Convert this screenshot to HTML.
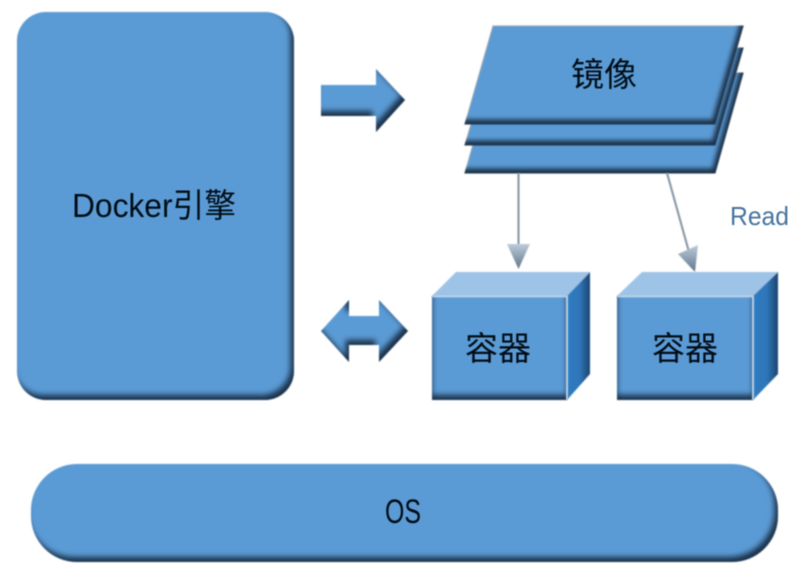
<!DOCTYPE html>
<html><head><meta charset="utf-8">
<style>
html,body{margin:0;padding:0;background:#fff;width:805px;height:570px;overflow:hidden}
svg{display:block}
text{font-family:"Liberation Sans","Noto Sans CJK SC",sans-serif;fill:#050d18}
</style></head>
<body>
<svg width="805" height="570" viewBox="0 0 805 570" xmlns="http://www.w3.org/2000/svg">
<defs>
<filter id="bevel" x="-5%" y="-5%" width="110%" height="110%" color-interpolation-filters="sRGB">
  <feGaussianBlur in="SourceAlpha" stdDeviation="2.8" result="b"/>
  <feOffset in="b" dx="-3.5" dy="-5" result="o"/>
  <feComposite in="SourceAlpha" in2="o" operator="out" result="edge"/>
  <feFlood flood-color="#1a3048" flood-opacity="1"/>
  <feComposite in2="edge" operator="in" result="dark"/>
  <feMerge result="m"><feMergeNode in="SourceGraphic"/><feMergeNode in="dark"/></feMerge>
  <feGaussianBlur in="m" stdDeviation="0.7"/>
</filter>
<filter id="bevelP" x="-5%" y="-10%" width="110%" height="120%" color-interpolation-filters="sRGB">
  <feGaussianBlur in="SourceAlpha" stdDeviation="2.5" result="b"/>
  <feOffset in="b" dx="-3" dy="-5" result="o"/>
  <feComposite in="SourceAlpha" in2="o" operator="out" result="edge"/>
  <feFlood flood-color="#1a3048" flood-opacity="1"/>
  <feComposite in2="edge" operator="in" result="dark"/>
  <feMerge result="m"><feMergeNode in="SourceGraphic"/><feMergeNode in="dark"/></feMerge>
  <feGaussianBlur in="m" stdDeviation="0.7"/>
</filter>
<filter id="bevelB" x="-5%" y="-10%" width="110%" height="120%" color-interpolation-filters="sRGB">
  <feGaussianBlur in="SourceAlpha" stdDeviation="2.8" result="b"/>
  <feOffset in="b" dx="0" dy="-5" result="o"/>
  <feComposite in="SourceAlpha" in2="o" operator="out" result="edge"/>
  <feFlood flood-color="#1a3048" flood-opacity="1"/>
  <feComposite in2="edge" operator="in" result="dark"/>
  <feMerge result="m"><feMergeNode in="SourceGraphic"/><feMergeNode in="dark"/></feMerge>
  <feGaussianBlur in="m" stdDeviation="0.7"/>
</filter>
<filter id="soft" x="-10%" y="-10%" width="120%" height="120%"><feGaussianBlur stdDeviation="0.7"/></filter>
<filter id="txt" x="-5%" y="-20%" width="110%" height="140%"><feGaussianBlur stdDeviation="0.5"/></filter>
<linearGradient id="side" x1="0" y1="0" x2="1" y2="0">
  <stop offset="0" stop-color="#2f7cc2"/><stop offset=".55" stop-color="#2f76b8"/><stop offset="1" stop-color="#1a4470"/>
</linearGradient>
<linearGradient id="head" x1="0" y1="0" x2="0" y2="1">
  <stop offset="0" stop-color="#bccbdb"/><stop offset="1" stop-color="#5f7588"/>
</linearGradient>
</defs>

<!-- Engine -->
<rect x="17" y="12" width="277" height="388" rx="29" fill="#5b9bd5" filter="url(#bevel)"/>
<text x="72" y="217" font-size="33" textLength="164" lengthAdjust="spacingAndGlyphs" filter="url(#txt)">Docker引擎</text>

<!-- Arrow right -->
<path d="M321 85H376V69L405 100L376 132V116H321Z" fill="#5b9bd5" filter="url(#bevel)"/>

<!-- Double arrow -->
<path d="M321 331L349 300V316H379V300L408 331L379 362V345H349V362Z" fill="#5b9bd5" filter="url(#bevel)"/>

<!-- Image stack -->
<g>
  <path d="M465 173L493 73H743L715 173Z" fill="#5b9bd5" stroke="#9aa3ab" stroke-width="1" filter="url(#bevelP)"/>
  <path d="M465 145L493 48H743L715 145Z" fill="#5b9bd5" stroke="#9aa3ab" stroke-width="1" filter="url(#bevelP)"/>
  <path d="M465 124L493 26H743L715 124Z" fill="#5b9bd5" stroke="#9aa3ab" stroke-width="1" filter="url(#bevelP)"/>
</g>
<text x="604" y="86" font-size="33" text-anchor="middle" filter="url(#txt)">镜像</text>

<!-- Connectors -->
<g filter="url(#soft)">
  <line x1="518.5" y1="173" x2="518.5" y2="246" stroke="#7f909f" stroke-width="2"/>
  <path d="M507 244H530L518.5 269Z" fill="url(#head)"/>
  <line x1="667" y1="173" x2="689" y2="252" stroke="#7f909f" stroke-width="2"/>
  <path d="M678 254L698 245L695 272Z" fill="url(#head)"/>
</g>

<!-- Container 1 -->
<g filter="url(#soft)">
  <path d="M432 296L456 272H590L567 296Z" fill="#9dc3e6"/>
  <path d="M567 296L590 272V374L567 400Z" fill="url(#side)"/>
</g>
<rect x="432" y="296" width="135" height="104" fill="#5b9bd5" filter="url(#bevelB)"/>
<path d="M432 296.5H567V400" fill="none" stroke="#c5dcf1" stroke-width="1.6" filter="url(#soft)"/>
<text x="498" y="360" font-size="33" text-anchor="middle" filter="url(#txt)">容器</text>

<!-- Container 2 -->
<g filter="url(#soft)">
  <path d="M617 296L642 272H778L753 296Z" fill="#9dc3e6"/>
  <path d="M753 296L778 272V374L753 400Z" fill="url(#side)"/>
</g>
<rect x="617" y="296" width="136" height="104" fill="#5b9bd5" filter="url(#bevelB)"/>
<path d="M617 296.5H753V400" fill="none" stroke="#c5dcf1" stroke-width="1.6" filter="url(#soft)"/>
<text x="685" y="360" font-size="33" text-anchor="middle" filter="url(#txt)">容器</text>

<!-- Read -->
<text x="730" y="225" font-size="26" textLength="59" lengthAdjust="spacingAndGlyphs" style="fill:#46739e" filter="url(#txt)">Read</text>

<!-- OS -->
<rect x="31" y="464" width="747" height="98" rx="46" fill="#5b9bd5" filter="url(#bevel)"/>
<text x="385" y="523" font-size="34" textLength="36" lengthAdjust="spacingAndGlyphs" filter="url(#txt)">OS</text>
</svg>
</body></html>
